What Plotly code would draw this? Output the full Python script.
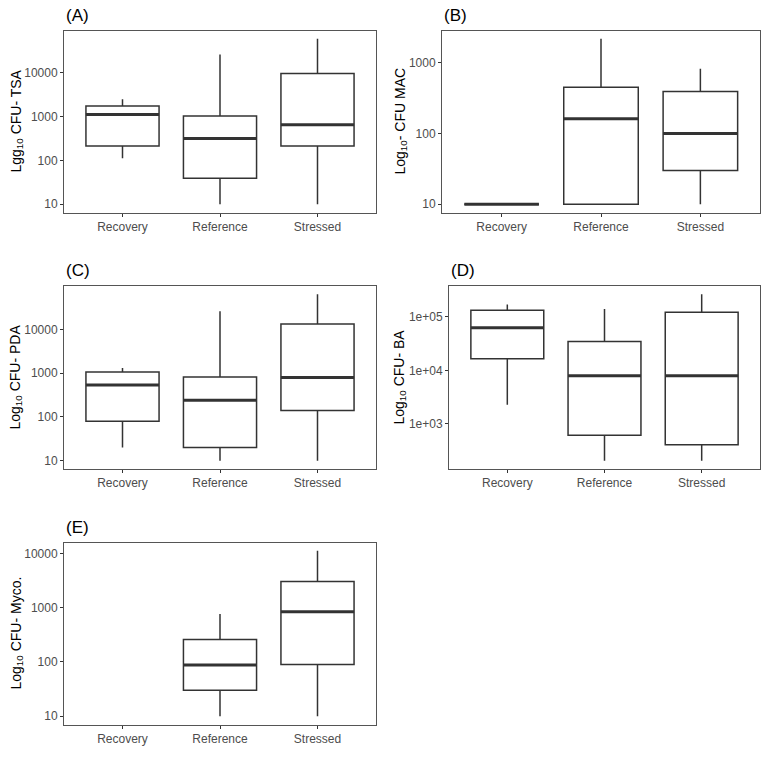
import math
import plotly.graph_objects as go

categories = ["Recovery", "Reference", "Stressed"]

tsa_lower = [112, 10, 10]
tsa_q1 = [213, 39, 213]
tsa_median = [1120, 318, 650]
tsa_q3 = [1760, 1040, 9650]
tsa_upper = [2500, 26100, 60000]

mac_lower = [10, 10, 10]
mac_q1 = [10, 10, 30]
mac_median = [10, 161, 100]
mac_q3 = [10, 449, 391]
mac_upper = [10, 2180, 822]

pda_lower = [20, 10, 10]
pda_q1 = [80, 20, 140]
pda_median = [536, 243, 801]
pda_q3 = [1067, 818, 13400]
pda_upper = [1315, 26100, 64100]

ba_lower = [2260, 204, 204]
ba_q1 = [16500, 611, 407]
ba_median = [63000, 7920, 7920]
ba_q3 = [133000, 34800, 122000]
ba_upper = [170000, 141000, 265000]

myco_lower = [None, 10, 10]
myco_q1 = [None, 30, 90]
myco_median = [None, 88, 841]
myco_q3 = [None, 260, 3030]
myco_upper = [None, 762, 11200]

log_ticks = [10, 100, 1000, 10000]
log_tick_text = ["10", "100", "1000", "10000"]
mac_ticks = [10, 100, 1000]
mac_tick_text = ["10", "100", "1000"]
ba_ticks = [1000, 10000, 100000]
ba_tick_text = ["1e+03", "1e+04", "1e+05"]

W = H = 768
FONT = "Liberation Sans, Arial, sans-serif"
LINE = "#333333"
BORDER = "#555555"
BOX_W = 0.75

panels = [
    dict(tag="(A)", title="Lgg<sub>10</sub> CFU- TSA",
         data=(tsa_lower, tsa_q1, tsa_median, tsa_q3, tsa_upper),
         ticks=log_ticks, ticktext=log_tick_text,
         box=(64, 376, 30.5, 212.5), tx=16),
    dict(tag="(B)", title="Log<sub>10</sub>- CFU MAC",
         data=(mac_lower, mac_q1, mac_median, mac_q3, mac_upper),
         ticks=mac_ticks, ticktext=mac_tick_text,
         box=(442, 760, 30.5, 212.5), tx=400),
    dict(tag="(C)", title="Log<sub>10</sub> CFU- PDA",
         data=(pda_lower, pda_q1, pda_median, pda_q3, pda_upper),
         ticks=log_ticks, ticktext=log_tick_text,
         box=(64, 376, 286, 469), tx=16),
    dict(tag="(D)", title="Log<sub>10</sub> CFU- BA",
         data=(ba_lower, ba_q1, ba_median, ba_q3, ba_upper),
         ticks=ba_ticks, ticktext=ba_tick_text,
         box=(449, 760, 286, 469), tx=400),
    dict(tag="(E)", title="Log<sub>10</sub> CFU- Myco.",
         data=(myco_lower, myco_q1, myco_median, myco_q3, myco_upper),
         ticks=log_ticks, ticktext=log_tick_text,
         box=(64, 376, 542.5, 724.5), tx=16),
]

fig = go.Figure()
annotations = []
layout_axes = {}

for k, p in enumerate(panels, start=1):
    xa = "x" if k == 1 else f"x{k}"
    ya = "y" if k == 1 else f"y{k}"
    lower, q1, med, q3, upper = p["data"]
    for i, cat in enumerate(categories):
        if med[i] is None:
            continue
        fig.add_trace(go.Box(
            x=[i], q1=[q1[i]], median=[med[i]], q3=[q3[i]],
            lowerfence=[lower[i]], upperfence=[upper[i]],
            width=BOX_W, whiskerwidth=0, boxpoints=False,
            fillcolor="white", line=dict(color=LINE, width=1.5),
            showlegend=False, hoverinfo="skip", name=cat,
            xaxis=xa, yaxis=ya))
        fig.add_trace(go.Scatter(
            x=[i - BOX_W / 2, i + BOX_W / 2], y=[med[i], med[i]],
            mode="lines", line=dict(color=LINE, width=3),
            showlegend=False, hoverinfo="skip",
            xaxis=xa, yaxis=ya))
    vals_lo = [v for v in lower if v is not None]
    vals_hi = [v for v in upper if v is not None]
    lo = math.log10(min(vals_lo))
    hi = math.log10(max(vals_hi))
    pad = 0.05 * (hi - lo)
    L, R, T, B = p["box"]
    xd = [L / W, R / W]
    yd = [1 - B / H, 1 - T / H]
    axis_common = dict(
        showgrid=False, zeroline=False, showline=True, mirror=True,
        linecolor=BORDER, linewidth=1, ticks="outside", ticklen=3,
        tickwidth=1, tickcolor=LINE,
        tickfont=dict(family=FONT, size=12, color="#4D4D4D"))
    layout_axes["xaxis" if k == 1 else f"xaxis{k}"] = dict(
        axis_common, domain=xd, range=[-0.6, 2.6],
        tickvals=list(range(len(categories))), ticktext=categories,
        anchor=ya)
    layout_axes["yaxis" if k == 1 else f"yaxis{k}"] = dict(
        axis_common, domain=yd, type="log", range=[lo - pad, hi + pad],
        tickvals=p["ticks"], ticktext=p["ticktext"], anchor=xa)
    annotations.append(dict(
        text=p["tag"], xref="paper", yref="paper", x=L / W,
        y=1 - (T - 15.5) / H, xanchor="left", yanchor="middle",
        showarrow=False, font=dict(family=FONT, size=17, color="black")))
    annotations.append(dict(
        text=p["title"], xref="paper", yref="paper", x=p["tx"] / W,
        y=1 - ((T + B) / 2) / H, xanchor="center", yanchor="middle",
        textangle=-90, showarrow=False,
        font=dict(family=FONT, size=14, color="black")))

fig.update_layout(
    width=W, height=H, margin=dict(l=0, r=0, t=0, b=0),
    paper_bgcolor="white", plot_bgcolor="white",
    annotations=annotations, **layout_axes)

fig.write_html("out.html")
